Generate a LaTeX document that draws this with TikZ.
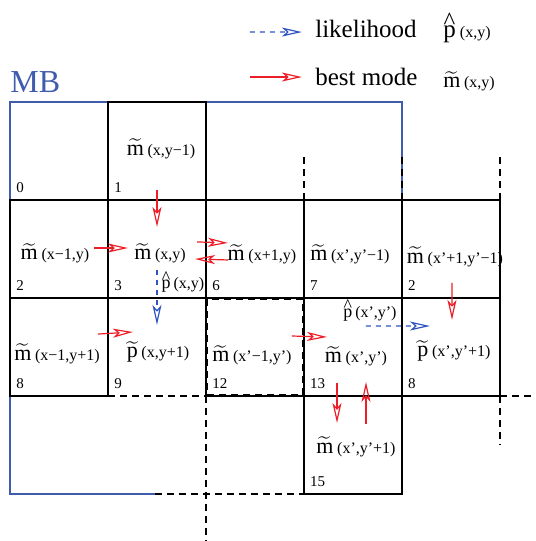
\documentclass[tikz,border=0pt]{standalone}
\usepackage{amsmath}
\usepackage{fontspec}
\setmainfont{Liberation Serif}
\usepackage{tikz}
\usetikzlibrary{arrows.meta, calc}
\definecolor{mbblue}{RGB}{64,92,172}
\definecolor{likeblue}{RGB}{48,84,190}
\definecolor{modered}{RGB}{236,30,40}

\newcommand{\argsz}[1]{{\fontsize{8}{9}\selectfont(#1)}}
\newcommand{\mtil}[1]{$\widetilde{\mbox{m}}$\,\argsz{#1}}
\newcommand{\ptil}[1]{$\widetilde{\mbox{p}}$\,\argsz{#1}}
\newcommand{\phat}[1]{\ooalign{p\cr\hidewidth\raisebox{0.32em}{\textasciicircum}\hidewidth\cr}\,\argsz{#1}}

\begin{document}
\begin{tikzpicture}[
    x=49pt, y=49pt,
    >={Stealth[open, length=10pt, width=4.5pt, inset=2.5pt]},
    cell/.style={line width=1pt, line cap=rect},
    dashline/.style={line width=1pt, dash pattern=on 3.5pt off 2.5pt},
    mb/.style={draw=mbblue, line width=0.7pt},
    bestmode/.style={->, draw=modered, line width=0.6pt},
    likely/.style={->, draw=likeblue, line width=0.6pt, dash pattern=on 2.5pt off 2.5pt},
    mlab/.style={anchor=base, inner sep=0pt, font=\fontsize{11}{13}\selectfont},
    hlab/.style={anchor=base, inner sep=0pt, font=\fontsize{9}{11}\selectfont},
    idx/.style={anchor=base west, inner sep=0pt, font=\fontsize{7.5}{9}\selectfont},
    legend/.style={anchor=base west, inner sep=0pt, font=\fontsize{12.5}{15}\selectfont},
]
    \useasboundingbox (-0.102,1.041) rectangle (5.367,-4.480);

    % Macroblock outline
    \draw[mb] (1.48,-4) -- (0,-4) -- (0,0) -- (4,0) -- (4,-1);
    \node[anchor=base west, inner sep=0pt, text=mbblue, font=\fontsize{16}{19}\selectfont] (mbl) at (0,0.102) {MB};

    % Solid cells
    \draw[cell] (1,0) rectangle (2,-1);
    \foreach \c in {0,...,5}
        \draw[cell] (\c,-1) -- (\c,-3);
    \draw[cell] (0,-1) -- (5,-1) (0,-2) -- (5,-2) (0,-3) -- (1,-3) (2,-3) -- (5,-3);
    \draw[cell] (3,-3) rectangle (4,-4);

    % Dashed block borders
    \foreach \c in {3,4,5}
        \draw[dashline] (\c,-1) -- (\c,-0.55);
    \draw[dashline] (1,-3) -- (2,-3);
    \draw[dashline] (2.01,-2.01) rectangle (2.99,-2.99);
    \draw[dashline] (2,-3) -- (2,-4.48);
    \draw[dashline] (1.48,-4) -- (3,-4);
    \draw[dashline] (5,-3) -- (5,-3.49);
    \draw[dashline] (5,-3) -- (5.367,-3);

    % Cell indices
    \foreach \c/\r/\n in {0/0/0, 1/0/1, 0/1/2, 1/1/3, 2/1/6, 3/1/7, 4/1/2, 0/2/8, 1/2/9, 2/2/12, 3/2/13, 4/2/8, 3/3/15}
        \node[idx] (n\c\r) at (\c+0.06,-\r-0.92) {\n};

    % Modes and likelihoods
    \node[mlab] (m1) at (1.541,-0.541) {\mtil{x,y−1}};
    \node[mlab] (m2) at (0.459,-1.612) {\mtil{x−1,y}};
    \node[mlab] (m3) at (1.531,-1.612) {\mtil{x,y}};
    \node[mlab] (m6) at (2.571,-1.622) {\mtil{x+1,y}};
    \node[mlab] (m7) at (3.469,-1.622) {\mtil{x',y'−1}};
    \node[mlab] (m2r) at (4.541,-1.643) {\mtil{x'+1,y'−1}};
    \node[hlab] (ph3) at (1.765,-1.908) {\phat{x,y}};
    \node[mlab] (m8) at (0.480,-2.633) {\mtil{x−1,y+1}};
    \node[mlab] (p9) at (1.510,-2.612) {\ptil{x,y+1}};
    \node[mlab] (m12) at (2.469,-2.653) {\mtil{x'−1,y'}};
    \node[mlab] (m13) at (3.531,-2.663) {\mtil{x',y'}};
    \node[mlab] (p8r) at (4.531,-2.602) {\ptil{x',y'+1}};
    \node[hlab] (ph13) at (3.673,-2.194) {\phat{x',y'}};
    \node[mlab] (m15) at (3.531,-3.582) {\mtil{x',y'+1}};

    % Best mode arrows
    \draw[bestmode] ($(m1.base)+(-0.041,-0.357)$) -- ($(m3.base)+(-0.031,0.337)$);
    \draw[bestmode] ($(m2.base)+(0.398,0.122)$) -- ($(m3.base)+(-0.327,0.122)$);
    \draw[bestmode] ($(m3.base)+(0.378,0.184)$) -- ($(m6.base)+(-0.347,0.184)$);
    \draw[bestmode] ($(m6.base)+(-0.347,0.010)$) -- ($(m3.base)+(0.357,0.010)$);
    \draw[bestmode] ($(m8.base)+(0.418,0.265)$) -- ($(p9.base)+(-0.255,0.265)$);
    \draw[bestmode] ($(m12.base)+(0.408,0.265)$) -- ($(m13.base)+(-0.296,0.265)$);
    \draw[bestmode] ($(m2r.base)+(-0.031,-0.204)$) -- ($(p8r.base)+(-0.020,0.378)$);
    \draw[bestmode] ($(m13.base)+(-0.194,-0.204)$) -- ($(m15.base)+(-0.194,0.306)$);
    \draw[bestmode] ($(m15.base)+(0.102,0.296)$) -- ($(m13.base)+(0.102,-0.194)$);

    % Likelihood arrows
    \draw[likely] ($(m3.base)+(-0.031,-0.102)$) -- ($(p9.base)+(-0.010,0.337)$);
    \draw[likely] ($(ph13.base)+(-0.041,-0.092)$) -- ($(p8r.base)+(-0.245,0.316)$);

    % Legend
    \coordinate (lkstart) at (2.449,0.714);
    \node[legend] (lk) at (3.112,0.663) {likelihood};
    \node[legend] (lkp) at (4.418,0.663) {\phat{x,y}};
    \coordinate (bmstart) at (2.449,0.255);
    \node[legend] (bm) at (3.112,0.173) {best mode};
    \node[legend, font=\fontsize{11}{13}\selectfont] (bmm) at (4.418,0.143) {\mtil{x,y}};
    \draw[likely] (lkstart) -- ($(lk.base west)+(-0.133,0.051)$);
    \draw[bestmode] (bmstart) -- ($(bm.base west)+(-0.133,0.082)$);
\end{tikzpicture}
\end{document}
